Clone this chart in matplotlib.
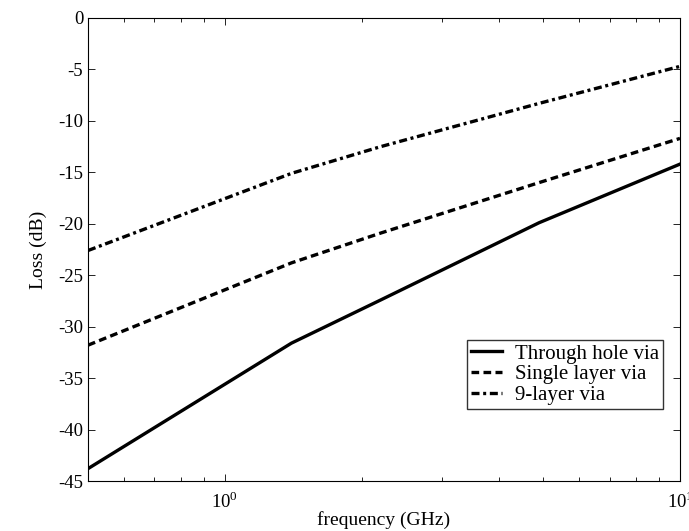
import matplotlib
matplotlib.use("Agg")
import matplotlib.pyplot as plt
from matplotlib.ticker import LogLocator, NullFormatter, FixedLocator

plt.rcParams['font.family'] = ['Liberation Serif', 'DejaVu Serif']
plt.rcParams['mathtext.fontset'] = 'custom'
plt.rcParams['mathtext.rm'] = 'Liberation Serif'

freq = [0.5, 1.4, 2.2, 4.9, 10.0]
through_hole = [-43.8, -31.6, -27.4, -19.9, -14.2]
single_layer = [-31.8, -23.8, -20.9, -16.0, -11.7]
nine_layer = [-22.6, -15.1, -12.5, -8.3, -4.7]
labels = ["Through hole via", "Single layer via", "9-layer via"]
y_ticks = list(range(-45, 1, 5))

fig = plt.figure(figsize=(6.89, 5.31), dpi=100)
ax = fig.add_axes([88/689, 1-481/531, (680-88)/689, (481-18)/531])

lw = 2.4
ax.plot(freq, through_hole, color='black', lw=lw, linestyle='-', label=labels[0])
ax.plot(freq, single_layer, color='black', lw=lw, linestyle=(0, (2.3, 1.3)), label=labels[1])
ax.plot(freq, nine_layer, color='black', lw=lw, linestyle=(0, (2.4, 1.1, 0.9, 1.1)), label=labels[2])

ax.set_xscale('log')
ax.set_xlim(0.5, 10)
ax.set_ylim(-45, 0)
ax.set_yticks(y_ticks)
ax.set_yticklabels([str(t) for t in y_ticks])
ax.xaxis.set_major_locator(FixedLocator([1, 10]))
ax.set_xticklabels([r'$10^0$', r'$10^1$'])
ax.xaxis.set_minor_locator(LogLocator(base=10, subs=range(2, 10)))
ax.xaxis.set_minor_formatter(NullFormatter())
ax.tick_params(which='both', direction='in', top=True, right=True, labelsize=13.5, width=0.6)
ax.tick_params(which='major', length=5)
ax.tick_params(which='minor', length=3)
ax.tick_params(axis='x', pad=7)
for s in ax.spines.values():
    s.set_linewidth(0.8)

ax.set_xlabel('frequency (GHz)', fontsize=14, labelpad=0)
ax.set_ylabel('Loss (dB)', fontsize=14, labelpad=8)

leg = ax.legend(loc='upper left', bbox_to_anchor=(467/689, 1-340/531), bbox_transform=fig.transFigure,
                fontsize=15, frameon=True, fancybox=False, edgecolor='black',
                handlelength=1.5, handletextpad=0.6, borderpad=0.2, labelspacing=0.05,
                borderaxespad=0)
leg.get_frame().set_linewidth(1.0)

fig.savefig('out.png', dpi=100)
